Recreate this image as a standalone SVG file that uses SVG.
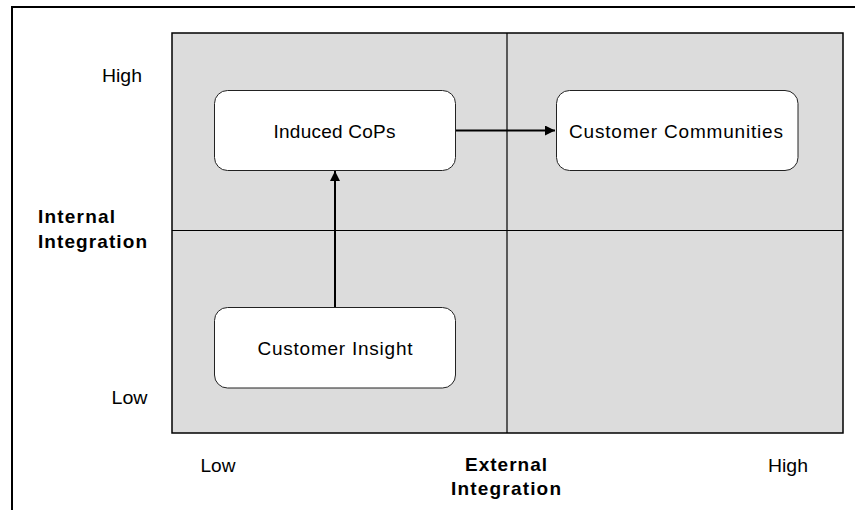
<svg xmlns="http://www.w3.org/2000/svg" width="855" height="510" viewBox="0 0 855 510">
  <style>
    .lbl { font-family: "Liberation Sans", Arial, sans-serif; font-size: 19px; fill: #000; }
    .axis { font-family: "Liberation Sans", Arial, sans-serif; font-size: 19px; font-weight: bold; fill: #000; }
    .node rect { fill: #fff; stroke: #222; stroke-width: 1; }
    .node text { font-family: "Liberation Sans", Arial, sans-serif; font-size: 19px; fill: #000; text-anchor: middle; }
    .conn { stroke: #000; stroke-width: 2; fill: none; marker-end: url(#arrow); }
  </style>
  <defs>
    <marker id="arrow" viewBox="0 0 10 10" refX="10" refY="5" markerWidth="5.5" markerHeight="5" orient="auto" markerUnits="strokeWidth">
      <path d="M0,0 L10,5 L0,10 z" fill="#000"/>
    </marker>
  </defs>

  <rect width="855" height="510" fill="#fff"/>
  <!-- outer frame -->
  <rect x="12" y="7" width="860" height="520" fill="none" stroke="#000" stroke-width="2"/>

  <!-- quadrant grid -->
  <g id="grid">
    <rect x="172" y="33" width="671" height="400" fill="#dcdcdc" stroke="#000" stroke-width="1.5"/>
    <line x1="507" y1="33" x2="507" y2="433" stroke="#000" stroke-width="1.2"/>
    <line x1="172" y1="230.5" x2="843" y2="230.5" stroke="#000" stroke-width="1.2"/>
  </g>

  <!-- axis labels -->
  <g id="axis-labels">
    <text class="lbl" x="102" y="81.5" textLength="40" lengthAdjust="spacingAndGlyphs">High</text>
    <text class="lbl" x="111.5" y="403.5" textLength="36" lengthAdjust="spacingAndGlyphs">Low</text>
    <text class="axis" x="38" y="223" textLength="77" lengthAdjust="spacing">Internal</text>
    <text class="axis" x="38" y="248" textLength="109" lengthAdjust="spacing">Integration</text>
    <text class="lbl" x="200.5" y="471.5" textLength="35" lengthAdjust="spacingAndGlyphs">Low</text>
    <text class="axis" x="465" y="471" textLength="82" lengthAdjust="spacing">External</text>
    <text class="axis" x="451" y="494.5" textLength="110" lengthAdjust="spacing">Integration</text>
    <text class="lbl" x="768" y="471.5" textLength="40" lengthAdjust="spacingAndGlyphs">High</text>
  </g>

  <!-- connectors -->
  <g id="connectors">
    <line class="conn" x1="335" y1="307" x2="335" y2="171"/>
    <line class="conn" x1="455" y1="130.5" x2="555" y2="130.5"/>
  </g>

  <!-- nodes -->
  <g id="induced-cops" class="node">
    <rect x="214.5" y="90.5" width="241" height="80" rx="13"/>
    <text x="334.5" y="137.5" textLength="122" lengthAdjust="spacing">Induced CoPs</text>
  </g>
  <g id="customer-communities" class="node">
    <rect x="556.5" y="90.5" width="241.5" height="80" rx="13"/>
    <text x="676" y="137.5" textLength="214" lengthAdjust="spacing">Customer Communities</text>
  </g>
  <g id="customer-insight" class="node">
    <rect x="214.5" y="307.5" width="241" height="80.5" rx="13"/>
    <text x="335" y="354.5" textLength="155" lengthAdjust="spacing">Customer Insight</text>
  </g>
</svg>
